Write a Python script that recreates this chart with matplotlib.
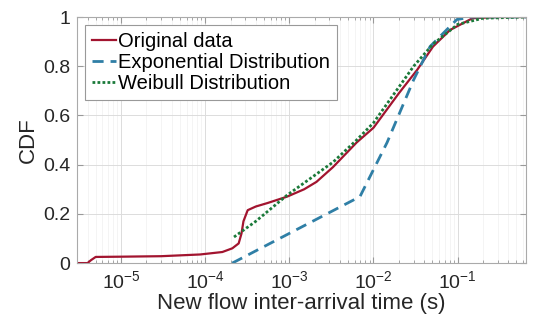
import matplotlib.pyplot as plt
from matplotlib.ticker import LogLocator, FixedLocator, NullFormatter

plt.rcParams['font.family'] = ['Liberation Sans', 'DejaVu Sans']

# values
orig_x = [3.0e-6, 4.0e-6, 4.4e-6, 5.0e-6, 1.0e-5, 3.0e-5, 8.7e-5, 1.6e-4, 2.1e-4,
          2.5e-4, 2.7e-4, 2.85e-4, 3.2e-4, 4.0e-4, 5.5e-4, 9.4e-4, 1.5e-3, 2.1e-3,
          3.3e-3, 6.3e-3, 1.0e-2, 2.0e-2, 3.3e-2, 5.1e-2, 8.1e-2, 1.5e-1, 3.0e-1, 6.5e-1]
orig_y = [0.0, 0.0, 0.012, 0.025, 0.026, 0.028, 0.035, 0.045, 0.06,
          0.08, 0.12, 0.17, 0.215, 0.23, 0.244, 0.27, 0.30, 0.33,
          0.39, 0.49, 0.55, 0.69, 0.785, 0.88, 0.947, 0.995, 1.0, 1.0]

expo_x = [2.1e-4, 6.9e-3, 1.45e-2, 3.0e-2, 4.7e-2, 9.8e-2, 1.5e-1, 6.5e-1]
expo_y = [0.0, 0.27, 0.49, 0.745, 0.88, 0.99, 1.0, 1.0]

weib_x = [2.2e-4, 4.0e-4, 9.4e-4, 3.3e-3, 6.3e-3, 1.0e-2, 2.0e-2, 3.0e-2,
          5.1e-2, 1.0e-1, 2.0e-1, 6.5e-1]
weib_y = [0.106, 0.17, 0.276, 0.41, 0.50, 0.57, 0.715, 0.80,
          0.89, 0.97, 0.995, 1.0]

labels = ['Original data', 'Exponential Distribution', 'Weibull Distribution']

fig = plt.figure(figsize=(5.33, 3.24), dpi=100)
ax = fig.add_axes([0.1445, 0.188, 0.8425, 0.7595])

ax.plot(orig_x, orig_y, color='#A2142F', lw=1.6, label=labels[0])
ax.plot(expo_x, expo_y, color='#2F7FA6', lw=2.0, ls=(0, (4, 2.5)), label=labels[1])
ax.plot(weib_x, weib_y, color='#1B7A3A', lw=2.0, ls=(0, (1, 0.8)), label=labels[2])

ax.set_xscale('log')
ax.set_xlim(3e-6, 0.65)
ax.set_ylim(0, 1)
ax.xaxis.set_major_locator(FixedLocator([1e-5, 1e-4, 1e-3, 1e-2, 1e-1]))
ax.xaxis.set_minor_locator(LogLocator(base=10, subs=range(2, 10)))
ax.xaxis.set_minor_formatter(NullFormatter())
ax.set_yticks([0, 0.2, 0.4, 0.6, 0.8, 1])
ax.set_yticklabels(['0', '0.2', '0.4', '0.6', '0.8', '1'])

ax.grid(True, which='major', color='#dcdcdc', lw=0.7)
ax.grid(True, which='minor', axis='x', color='#f0f0f0', lw=0.5)
ax.set_axisbelow(True)

ax.tick_params(which='both', direction='in', top=True, right=True,
               colors='#999999', labelcolor='#262626', labelsize=14, pad=5)
ax.tick_params(which='major', length=4)
ax.tick_params(which='minor', length=2)
for s in ax.spines.values():
    s.set_color('#aaaaaa')
    s.set_linewidth(0.8)

ax.set_xlabel('New flow inter-arrival time (s)', fontsize=16, color='#262626', labelpad=1)
ax.set_ylabel('CDF', fontsize=16, color='#262626', labelpad=3)

leg = ax.legend(loc='upper left', fontsize=14.5, handlelength=1.2, handletextpad=0.1,
                borderaxespad=0.4, borderpad=0.35, labelspacing=0.1,
                fancybox=False, framealpha=1)
leg.get_frame().set_edgecolor('#999999')
leg.get_frame().set_linewidth(0.8)

fig.savefig('out.png', dpi=100)
